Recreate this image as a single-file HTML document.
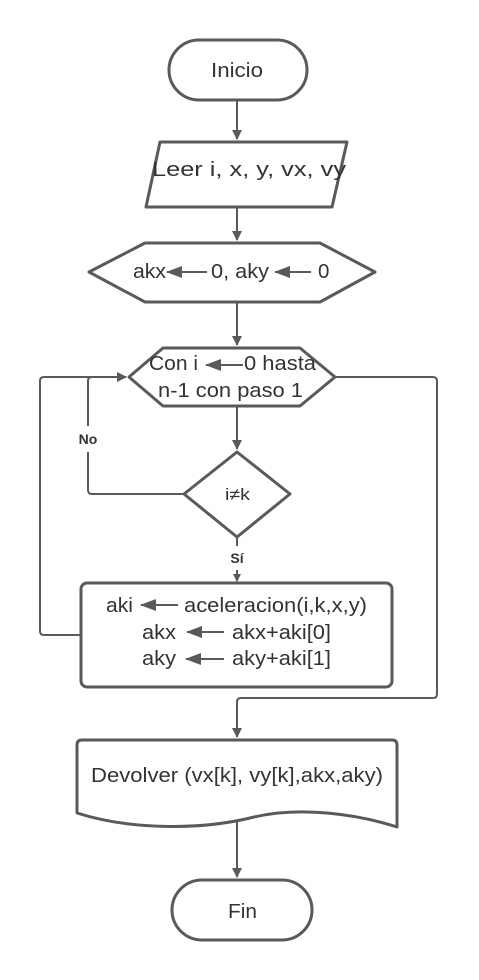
<!DOCTYPE html>
<html><head><meta charset="utf-8"><style>
html,body{margin:0;padding:0;background:#fff;}
svg{display:block;}
text{font-family:"Liberation Sans",sans-serif;fill:#333;}
</style></head><body>
<svg width="479" height="980" viewBox="0 0 479 980">
<defs><marker id="a" markerWidth="10" markerHeight="10" refX="9" refY="5" orient="auto" markerUnits="userSpaceOnUse"><path d="M0,0 L10,5 L0,10 z" fill="#5a5a5a"/></marker>
<marker id="s" markerWidth="8" markerHeight="8" refX="7" refY="4" orient="auto" markerUnits="userSpaceOnUse"><path d="M0,0 L8,4 L0,8 z" fill="#5a5a5a"/></marker></defs>
<g fill="none" stroke="#5a5a5a" stroke-width="3" stroke-linejoin="round">
<rect x="169" y="40" width="138" height="60" rx="30"/>
<path d="M160,142 L347,142 L332,207 L146,207 Z"/>
<path d="M89,272 L145,243 L320,243 L375,272 L320,302 L145,302 Z"/>
<path d="M129,377 L163,348 L300,348 L335,377 L300,406 L163,406 Z"/>
<path d="M237,452 L290,494 L237,537 L184,494 Z"/>
<rect x="81" y="583" width="311" height="104" rx="6"/>
<path d="M77,745 Q77,740 82,740 L392,740 Q397,740 397,745 L397,827 C360,815 300,805 250,818 C200,830 130,830 77,813 Z"/>
<rect x="172" y="880" width="140" height="60" rx="30"/>
</g>
<g fill="none" stroke="#5a5a5a" stroke-width="2">
<path d="M237,100 L237,139" marker-end="url(#a)"/>
<path d="M237,207 L237,240" marker-end="url(#a)"/>
<path d="M237,302 L237,345" marker-end="url(#a)"/>
<path d="M237,406 L237,449" marker-end="url(#a)"/>
<path d="M237,537 L237,546"/>
<path d="M237,570 L237,581" marker-end="url(#s)"/>
<path d="M335,377 L433,377 Q437,377 437,381 L437,694 Q437,698 433,698 L241,698 Q237,698 237,702 L237,737" marker-end="url(#a)"/>
<path d="M81,635 L44,635 Q40,635 40,631 L40,381 Q40,377 44,377 L126,377" marker-end="url(#a)"/>
<path d="M184,494 L92,494 Q88,494 88,490 L88,452"/>
<path d="M88,426 L88,381 Q88,377 92,377"/>
<path d="M237,820 L237,877" marker-end="url(#a)"/>
<path d="M207,272 L167,272"/>
<path d="M311,272 L275,272"/>
<path d="M243,365 L206,365"/>
<path d="M178,605 L141,605"/>
<path d="M224,632 L187,632"/>
<path d="M224,659 L186,659"/>
</g>
<g fill="#5a5a5a">
<path d="M166,272 L182,266 L182,278 Z"/>
<path d="M274,272 L290,266 L290,278 Z"/>
<path d="M205,365 L221,359 L221,371 Z"/>
<path d="M140,605 L156,599 L156,611 Z"/>
<path d="M186,632 L202,626 L202,638 Z"/>
<path d="M185,659 L201,653 L201,665 Z"/>
</g>
<g font-size="20.5" lengthAdjust="spacingAndGlyphs">
<text x="211" y="77" textLength="52" lengthAdjust="spacingAndGlyphs">Inicio</text>
<text x="152" y="176" textLength="194" lengthAdjust="spacingAndGlyphs">Leer i, x, y, vx, vy</text>
<text x="133" y="278" textLength="33" lengthAdjust="spacingAndGlyphs">akx</text>
<text x="211" y="278" textLength="58" lengthAdjust="spacingAndGlyphs">0, aky</text>
<text x="318" y="278">0</text>
<text x="149" y="370" textLength="49" lengthAdjust="spacingAndGlyphs">Con i</text>
<text x="244" y="370" textLength="72" lengthAdjust="spacingAndGlyphs">0 hasta</text>
<text x="158" y="397" textLength="145" lengthAdjust="spacingAndGlyphs">n-1 con paso 1</text>
<text x="225" y="500" font-size="17" textLength="25" lengthAdjust="spacingAndGlyphs">i≠k</text>
<text x="91" y="782" textLength="292" lengthAdjust="spacingAndGlyphs">Devolver (vx[k], vy[k],akx,aky)</text>
<text x="228" y="918" textLength="29" lengthAdjust="spacingAndGlyphs">Fin</text>
<text x="106" y="612" textLength="27" lengthAdjust="spacingAndGlyphs">aki</text>
<text x="184" y="612" textLength="183" lengthAdjust="spacingAndGlyphs">aceleracion(i,k,x,y)</text>
<text x="142" y="639" textLength="34" lengthAdjust="spacingAndGlyphs">akx</text>
<text x="232" y="639" textLength="99" lengthAdjust="spacingAndGlyphs">akx+aki[0]</text>
<text x="142" y="665" textLength="34" lengthAdjust="spacingAndGlyphs">aky</text>
<text x="232" y="665" textLength="99" lengthAdjust="spacingAndGlyphs">aky+aki[1]</text>
</g>
<text x="88" y="444" font-size="14" font-weight="bold" text-anchor="middle">No</text>
<text x="237" y="563" font-size="14" font-weight="bold" text-anchor="middle">Sí</text>
</svg>
</body></html>
